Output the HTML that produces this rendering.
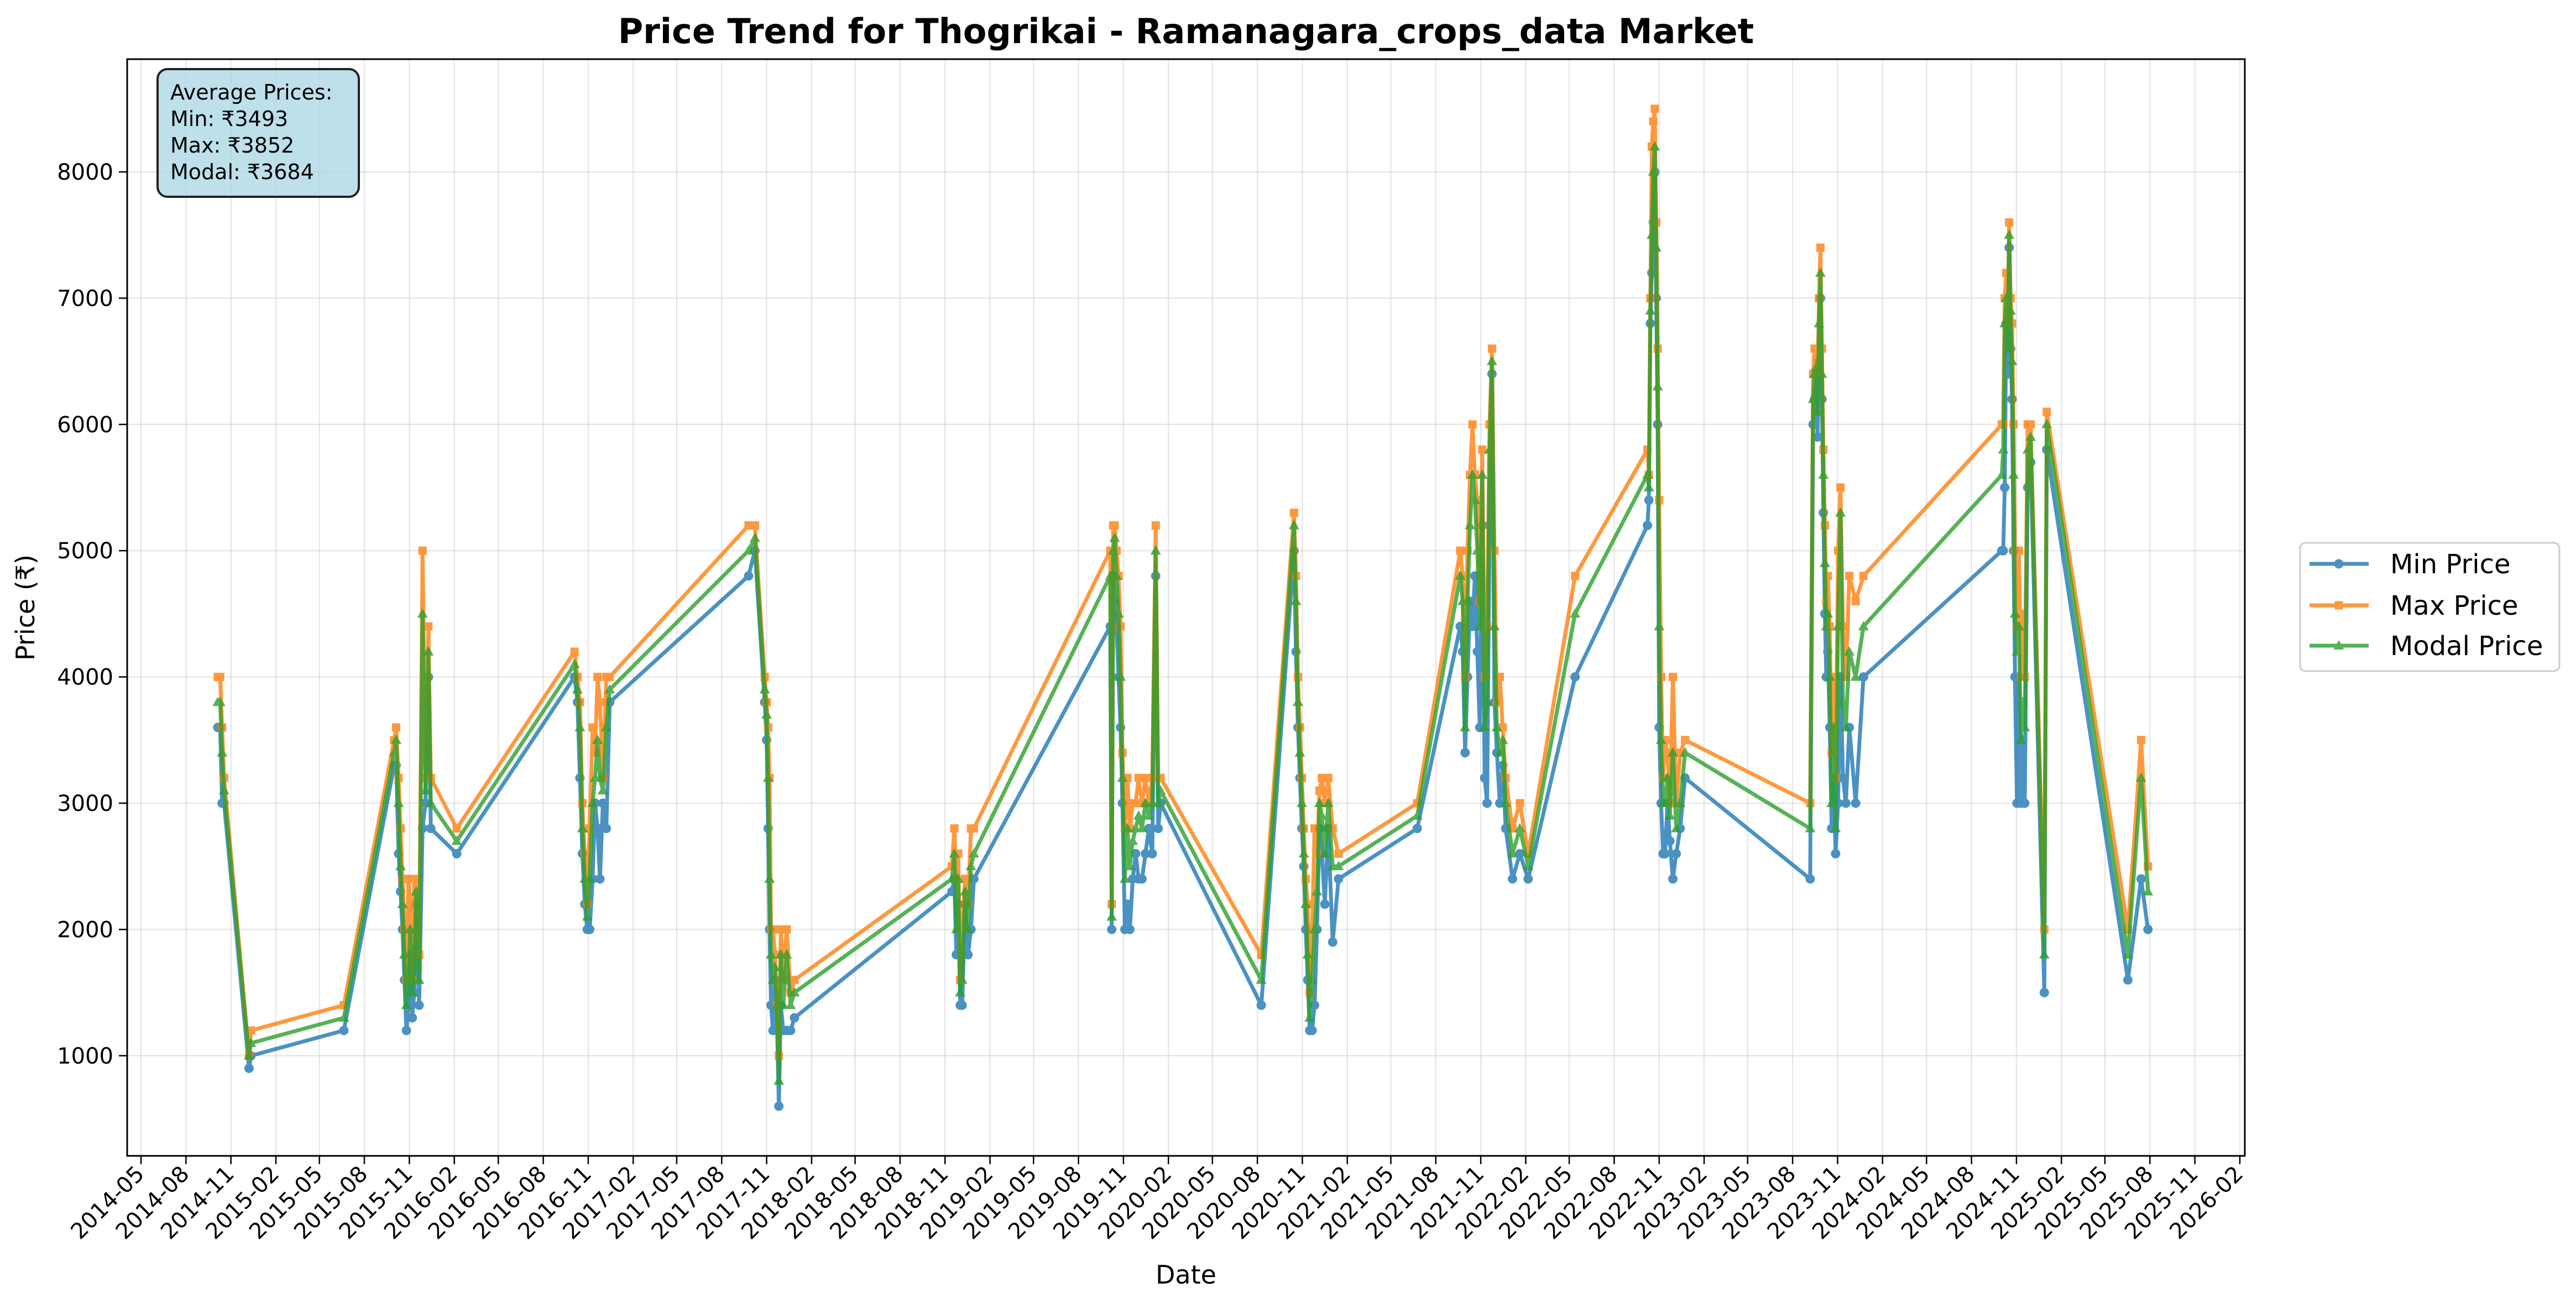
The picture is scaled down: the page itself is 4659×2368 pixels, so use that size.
<!DOCTYPE html>
<html><head><meta charset="utf-8">
<style>
html,body{margin:0;padding:0;background:#fff;}
svg{display:block;font-family:"DejaVu Sans","Liberation Sans",sans-serif;}
</style></head>
<body>
<svg id="chart" width="4659" height="2368" viewBox="0 0 4659 2368" xmlns="http://www.w3.org/2000/svg">
<rect x="0" y="0" width="4659" height="2368" fill="#fff"/>
<text x="2145" y="78" text-anchor="middle" font-size="62" font-weight="bold">Price Trend for Thogrikai - Ramanagara_crops_data Market</text>
<g id="grid"></g>
<g id="series"></g>
<rect x="230" y="107" width="3830" height="1984" fill="none" stroke="#000" stroke-width="3"/>
<g id="axes"></g>
<text transform="translate(62,1099) rotate(-90)" text-anchor="middle" font-size="46">Price (₹)</text>
<text x="2145" y="2322" text-anchor="middle" font-size="46">Date</text>
<g>
<rect x="285" y="125" width="364" height="231" rx="18" fill="#add8e6" fill-opacity="0.8" stroke="#222" stroke-width="4"/>
<text x="308" y="180" font-size="38">Average Prices:</text>
<text x="308" y="228" font-size="38">Min: ₹3493</text>
<text x="308" y="276" font-size="38">Max: ₹3852</text>
<text x="308" y="324" font-size="38">Modal: ₹3684</text>
</g>
<g id="legend">
<rect x="4160" y="982" width="469" height="232" rx="10" fill="#fff" stroke="#ccc" stroke-width="3"/>
</g>
</svg>
<script>
const dates = ["2014-10-05","2014-10-10","2014-10-14","2014-10-18","2014-12-08","2014-12-12","2015-06-20",
"2015-10-01","2015-10-05","2015-10-10","2015-10-14","2015-10-18","2015-10-22","2015-10-26","2015-10-30","2015-11-03","2015-11-07","2015-11-11","2015-11-15","2015-11-21","2015-11-28","2015-12-04","2015-12-10","2015-12-15","2016-02-06",
"2016-10-04","2016-10-10","2016-10-15","2016-10-20","2016-10-25","2016-10-30","2016-11-04","2016-11-10","2016-11-15","2016-11-20","2016-11-25","2016-12-01","2016-12-08","2016-12-15",
"2017-09-25","2017-10-08","2017-10-28","2017-11-01","2017-11-04","2017-11-07","2017-11-10","2017-11-14","2017-11-18","2017-11-22","2017-11-26","2017-11-30","2017-12-05","2017-12-12","2017-12-20","2017-12-28",
"2018-11-15","2018-11-20","2018-11-24","2018-11-28","2018-12-02","2018-12-06","2018-12-12","2018-12-18","2018-12-24","2018-12-30",
"2019-10-05","2019-10-08","2019-10-11","2019-10-14","2019-10-18","2019-10-22","2019-10-26","2019-10-30","2019-11-04","2019-11-09","2019-11-14","2019-11-20","2019-11-26","2019-12-02","2019-12-09","2019-12-16","2019-12-23","2019-12-30","2020-01-06","2020-01-11","2020-01-16",
"2020-08-09",
"2020-10-15","2020-10-19","2020-10-23","2020-10-27","2020-10-31","2020-11-04","2020-11-08","2020-11-12","2020-11-16","2020-11-21","2020-11-26","2020-12-01","2020-12-06","2020-12-11","2020-12-17","2020-12-24","2021-01-02","2021-01-14",
"2021-06-24",
"2021-09-20","2021-09-25","2021-09-30","2021-10-05","2021-10-10","2021-10-15","2021-10-20","2021-10-25","2021-10-30","2021-11-04","2021-11-09","2021-11-14","2021-11-19","2021-11-24","2021-11-29","2021-12-04","2021-12-10","2021-12-16","2021-12-22","2022-01-05","2022-01-20","2022-02-06",
"2022-05-13",
"2022-10-08","2022-10-11","2022-10-14","2022-10-17","2022-10-20","2022-10-23","2022-10-26","2022-10-29","2022-11-01","2022-11-05","2022-11-09","2022-11-13","2022-11-18","2022-11-23","2022-11-29","2022-12-06","2022-12-14","2022-12-24",
"2023-09-06",
"2023-09-12","2023-09-15","2023-09-18","2023-09-21","2023-09-24","2023-09-27","2023-09-30","2023-10-03","2023-10-06","2023-10-09","2023-10-12","2023-10-16","2023-10-20","2023-10-24","2023-10-28","2023-11-02","2023-11-07","2023-11-12","2023-11-18","2023-11-25","2023-12-08","2023-12-24",
"2024-10-02","2024-10-05","2024-10-08","2024-10-11","2024-10-14","2024-10-17","2024-10-20","2024-10-23","2024-10-26","2024-10-29","2024-11-02","2024-11-06","2024-11-10","2024-11-14","2024-11-18","2024-11-24","2024-11-30","2024-12-28","2025-01-02",
"2025-06-17","2025-07-14","2025-07-28"];
const minPrice = [3600,3600,3000,3000,900,1000,1200,
3300,3300,2600,2300,2000,1600,1200,1400,1800,1300,1500,2200,1400,2800,3000,4000,2800,2600,
4000,3800,3200,2600,2200,2000,2000,2400,3000,2800,2400,3000,2800,3800,
4800,5000,3800,3500,2800,2000,1400,1200,1600,1300,600,1400,1200,1200,1200,1300,
2300,2400,1800,2200,1400,1400,2200,1800,2000,2400,
4400,2000,4800,4600,4400,4000,3600,3000,2000,2200,2000,2400,2600,2400,2400,2600,2800,2600,4800,2800,3000,
1400,
5000,4200,3600,3200,2800,2500,2000,1600,1200,1200,1400,2000,2800,2600,2200,2800,1900,2400,
2800,
4400,4200,3400,4000,4600,4400,4800,4200,3600,5200,3200,3000,5200,6400,3800,3400,3000,3300,2800,2400,2600,2400,
4000,
5200,5400,6800,7200,7600,8000,7000,6000,3600,3000,2600,2600,3000,2700,2400,2600,2800,3200,
2400,
6000,6200,6400,5900,6500,7000,6200,5300,4500,4000,4200,3600,2800,3200,2600,3000,4000,3200,3000,3600,3000,4000,
5000,5000,5500,6800,6400,7400,6600,6200,5000,4000,3000,4000,3000,3500,3000,5500,5700,1500,5800,
1600,2400,2000];
const maxPrice = [4000,4000,3600,3200,1000,1200,1400,
3500,3600,3200,2800,2400,2000,1600,2400,2200,1600,2400,2400,1800,5000,3200,4400,3200,2800,
4200,4000,3800,3000,2600,2200,2800,3600,3400,4000,3800,3200,4000,4000,
5200,5200,4000,3800,3600,3200,2000,2000,1800,1400,1000,2000,1600,2000,1500,1600,
2500,2800,2400,2600,1600,2000,2400,2200,2800,2800,
5000,2200,5200,5200,5000,4800,4400,3400,2800,3200,2800,3000,3000,3200,3000,3200,3000,3200,5200,3200,3200,
1800,
5300,4800,4000,3600,3200,2800,2400,2200,1500,2000,2800,2600,3100,3200,3000,3200,2800,2600,
3000,
5000,4800,4000,5000,5600,6000,5600,5400,4600,5800,4000,4400,6000,6600,5000,3800,4000,3600,3200,2800,3000,2600,
4800,
5800,5600,7000,8200,8400,8500,7600,6600,5400,4000,3200,3500,3400,3000,4000,3000,3400,3500,
3000,
6400,6600,6500,6400,7000,7400,6600,5800,5200,4600,4800,4400,3400,4000,3200,5000,5500,4400,4000,4800,4600,4800,
6000,6000,7000,7200,6800,7600,7000,6800,6000,5000,4400,5000,4000,4500,4000,6000,6000,2000,6100,
2000,3500,2500];
const modalPrice = [3800,3800,3400,3100,1000,1100,1300,
3400,3500,3000,2500,2200,1800,1400,1600,2000,1500,1700,2300,1600,4500,3100,4200,3000,2700,
4100,3900,3600,2800,2400,2100,2400,3000,3200,3500,3200,3100,3600,3900,
5000,5100,3900,3700,3200,2400,1800,1600,1700,1400,800,1800,1400,1800,1400,1500,
2400,2600,2000,2400,1500,1600,2300,2000,2500,2600,
4800,2100,5000,5100,4800,4500,4000,3200,2400,2800,2500,2700,2800,2900,2800,3000,2900,3000,5000,3000,3100,
1600,
5200,4600,3800,3400,3000,2600,2200,1800,1300,1600,2000,2300,3000,2900,2600,3000,2500,2500,
2900,
4800,4600,3600,4600,5200,5600,5400,5000,4400,5600,3600,3800,5800,6500,4400,3600,3400,3500,3000,2600,2800,2500,
4500,
5600,5500,6900,7500,8000,8200,7400,6300,4400,3500,3000,3000,3200,2900,3400,2800,3000,3400,
2800,
6200,6400,6450,6100,6800,7200,6400,5600,4900,4400,4500,4000,3000,3600,2800,4400,5300,3800,3600,4200,4000,4400,
5600,5800,6800,7000,6600,7500,6900,6500,5600,4500,4200,4400,3500,3800,3600,5800,5900,1800,6000,
1800,3200,2300];
const yTicks = [1000,2000,3000,4000,5000,6000,7000,8000];
const seriesNames = ["Min Price","Max Price","Modal Price"];

const NS = "http://www.w3.org/2000/svg";
const T0 = Date.UTC(2014,4,1), T1 = Date.UTC(2026,1,1);
function xScale(d){ const t = (d instanceof Date) ? d.getTime() : Date.parse(d+"T00:00:00Z"); return 255 + (t - T0)/(T1 - T0)*(4051-255); }
function yScale(v){ return 311 + (8000 - v)*0.2284; }
function mk(tag, attrs, parent){ const e=document.createElementNS(NS,tag); for(const k in attrs) e.setAttribute(k,attrs[k]); parent.appendChild(e); return e; }

const grid = document.getElementById('grid');
const axes = document.getElementById('axes');
const xTickDates = [];
for(let y=2014,m=4; y<2026 || (y===2026 && m<=1); ){ xTickDates.push([y,m]); m+=3; if(m>11){m-=12;y++;} }
xTickDates.forEach(([y,m])=>{
  const x = xScale(new Date(Date.UTC(y,m,1)));
  const gl = mk('line',{x1:x,x2:x,y1:107,y2:2091,stroke:'#b0b0b0','stroke-opacity':0.3,'stroke-width':2.5},grid);
  
  
  const tk = mk('line',{x1:x,x2:x,y1:2091,y2:2106,stroke:'#000','stroke-width':2.5},axes);
  
  
  const lab = y + '-' + String(m+1).padStart(2,'0');
  const t = mk('text',{x:x+8,y:2126,'font-size':40,'text-anchor':'end',transform:`rotate(-45 ${x+8} 2126)`},axes);
  t.textContent = lab;
  
  
});
yTicks.forEach(v=>{
  const y = yScale(v);
  const gl = mk('line',{x1:230,x2:4060,y1:y,y2:y,stroke:'#b0b0b0','stroke-opacity':0.3,'stroke-width':2.5},grid);
  
  
  const tk = mk('line',{x1:215,x2:230,y1:y,y2:y,stroke:'#000','stroke-width':2.5},axes);
  
  
  const t = mk('text',{x:205,y:y+14,'font-size':40,'text-anchor':'end'},axes);
  t.textContent = String(v);
  
  
});

const colors = ['#1f77b4','#ff7f0e','#2ca02c'];
const shapes = ['circle','square','triangle'];
function marker(shape,x,y,c,parent){
  let e;
  if(shape==='circle') e = mk('circle',{cx:x,cy:y,r:8.5,fill:c},parent);
  else if(shape==='square') e = mk('rect',{x:x-7.5,y:y-7.5,width:15,height:15,fill:c},parent);
  else e = mk('polygon',{points:`${x},${y-10} ${x-9.5},${y+7} ${x+9.5},${y+7}`,fill:c},parent);
  return e;
}
const seriesLayer = document.getElementById('series');
[minPrice,maxPrice,modalPrice].forEach((vals,si)=>{
  const g = mk('g',{opacity:0.8},seriesLayer);
  
  
  const pts = vals.map((v,i)=>xScale(dates[i]).toFixed(1)+','+yScale(v).toFixed(1)).join(' ');
  const pl = mk('polyline',{points:pts,fill:'none',stroke:colors[si],'stroke-width':7,'stroke-linejoin':'round'},g);
  
  
  vals.forEach((v,i)=>{
    const m = marker(shapes[si],xScale(dates[i]),yScale(v),colors[si],g);
    
    
  });
});

const legend = document.getElementById('legend');
const legY = [1020,1095,1168];
seriesNames.forEach((n,i)=>{
  const g = mk('g',{},legend);
  
  
  const sub = mk('g',{opacity:0.8},g);
  mk('line',{x1:4177,x2:4284,y1:legY[i],y2:legY[i],stroke:colors[i],'stroke-width':7},sub);
  marker(shapes[i],4230,legY[i],colors[i],sub);
  const t = mk('text',{x:4323,y:legY[i]+17,'font-size':48},g);
  t.textContent = n;
});
</script>
</body></html>
